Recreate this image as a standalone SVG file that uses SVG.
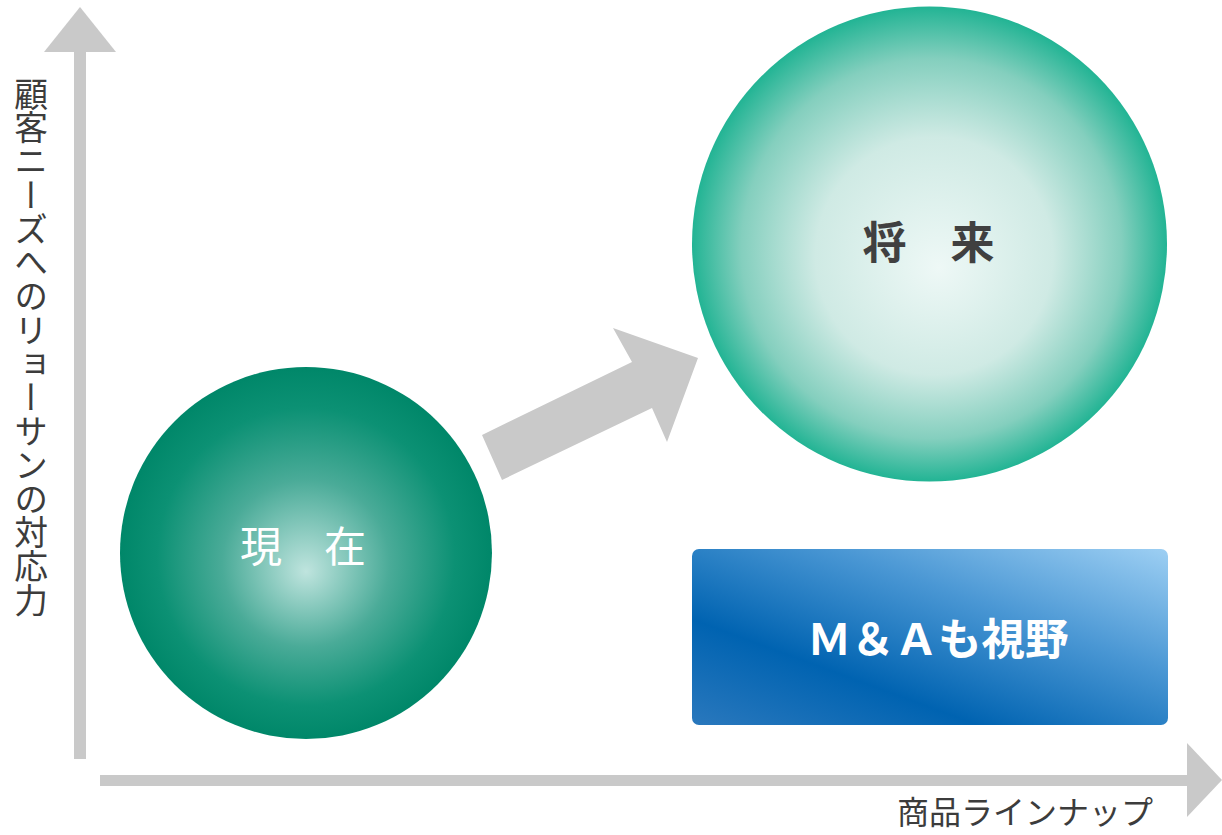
<svg xmlns="http://www.w3.org/2000/svg" width="1222" height="835" viewBox="0 0 1222 835">
<defs>
<style>
.axis{fill:#c9c9c9}
.lbl{font-family:"Noto Sans CJK JP","Noto Sans",sans-serif;fill:#3c3c3c}
.ctr{text-anchor:middle;dominant-baseline:central}
</style>
<radialGradient id="gNow" cx="0.5" cy="0.5" r="0.5" fx="0.5" fy="0.55">
<stop offset="0" stop-color="#bfe4de"/>
<stop offset="0.45" stop-color="#4aab98"/>
<stop offset="0.8" stop-color="#0c9174"/>
<stop offset="1" stop-color="#008769"/>
</radialGradient>
<radialGradient id="gFut" cx="0.5" cy="0.5" r="0.5" fx="0.52" fy="0.55">
<stop offset="0" stop-color="#eef8f6"/>
<stop offset="0.5" stop-color="#cfeae4"/>
<stop offset="0.8" stop-color="#84cfbe"/>
<stop offset="1" stop-color="#22b494"/>
</radialGradient>
<linearGradient id="gBox" x1="0" y1="1" x2="1" y2="0">
<stop offset="0" stop-color="#2a78bd"/>
<stop offset="0.3" stop-color="#0063b1"/>
<stop offset="0.65" stop-color="#4a97d4"/>
<stop offset="1" stop-color="#9dcff3"/>
</linearGradient>
</defs>

<g id="axes">
<g id="y-axis">
<rect class="axis" x="74" y="50" width="12" height="709"/>
<polygon class="axis" points="44,52 80,7 116,52"/>
</g>
<g id="x-axis">
<rect class="axis" x="100" y="775" width="1090" height="11"/>
<polygon class="axis" points="1187,743 1222,780 1187,817"/>
</g>
<text class="lbl" x="31" y="77" font-size="33.75" writing-mode="vertical-rl">顧客ニーズへのリョーサンの対応力</text>
<text class="lbl" x="897" y="810" font-size="32" dominant-baseline="central">商品ラインナップ</text>
</g>

<g id="connectors">
<polygon class="axis" points="482,435 632,362 613,328 698,358 667,442 652,408 502,480"/>
</g>

<g id="node-now">
<circle cx="306" cy="553" r="186" fill="url(#gNow)"/>
<text class="lbl ctr" x="303" y="543" font-size="42" style="fill:#ffffff">現　在</text>
</g>

<g id="node-future">
<circle cx="929.5" cy="244" r="237.5" fill="url(#gFut)"/>
<text class="lbl ctr" x="928.5" y="240" font-size="44" font-weight="bold" style="fill:#404040">将　来</text>
</g>

<g id="node-ma">
<rect x="692" y="549" width="476" height="176" rx="7" fill="url(#gBox)"/>
<text class="lbl ctr" x="938" y="636" font-size="43.5" font-weight="bold" style="fill:#ffffff">Ｍ＆Ａも視野</text>
</g>
</svg>
